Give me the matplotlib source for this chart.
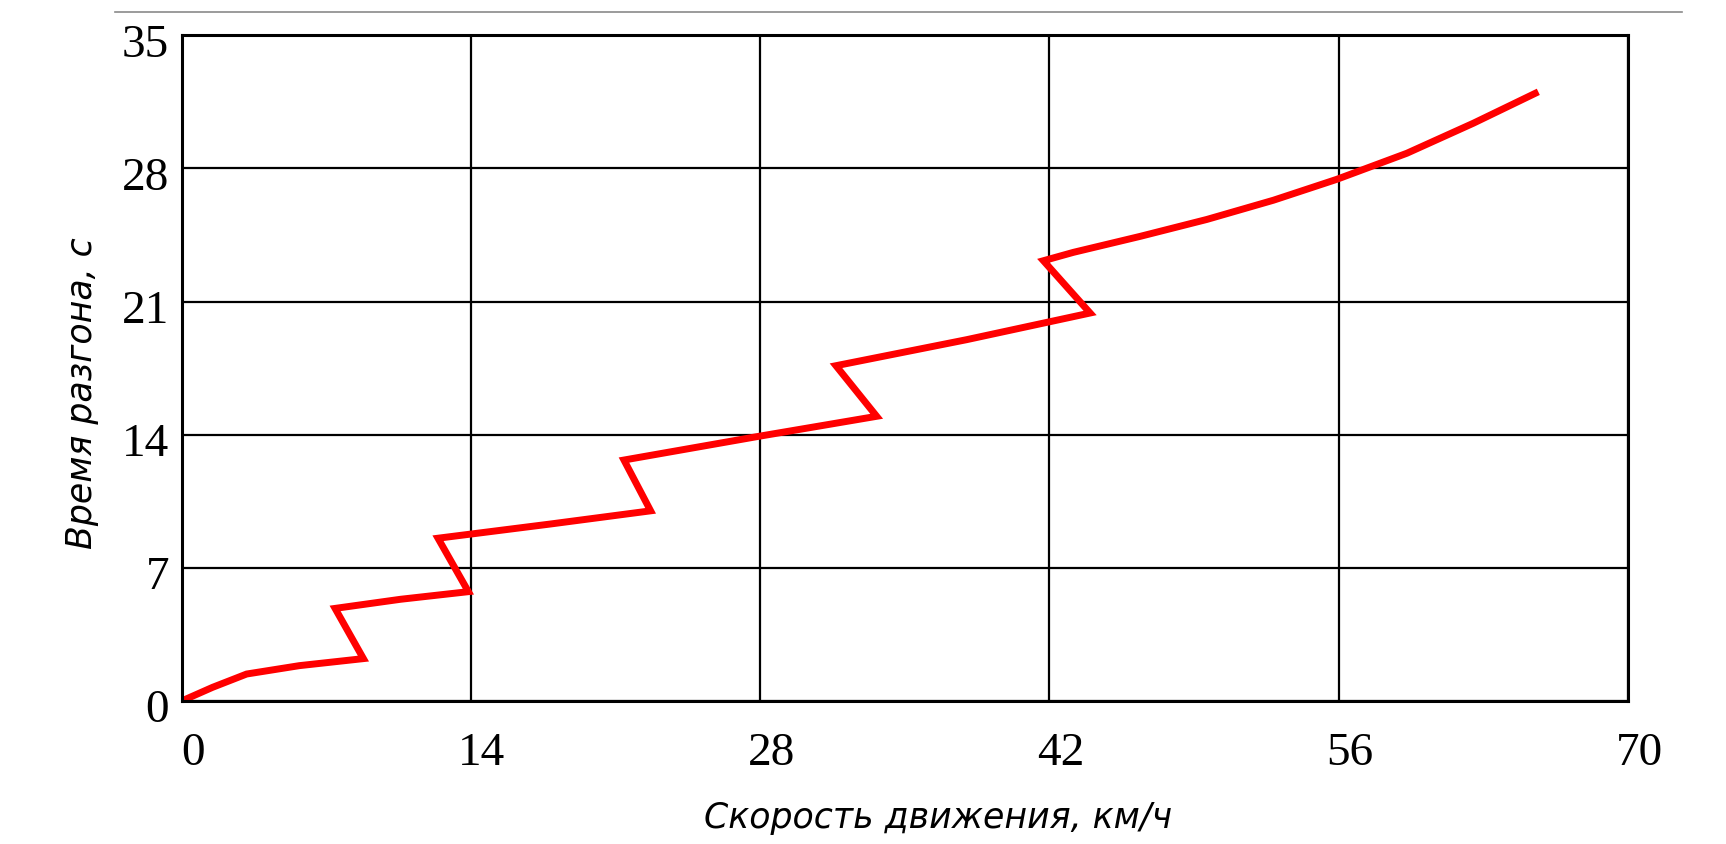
import numpy as np
import matplotlib
matplotlib.use("Agg")
import matplotlib.pyplot as plt
import matplotlib.transforms as mtransforms
from matplotlib.lines import Line2D

# ─── Данные: время разгона по передачам ──────────────────────────────────────
speed_kmh = [0, 1.5, 3.15, 5.7, 8.8,
             7.43, 10.6, 13.88,
             12.41, 17.8, 22.7,
             21.41, 28.0, 33.64,
             31.67, 38.0, 43.97,
             41.71, 43.16, 46.39, 49.62, 52.84, 55.91, 59.3, 62.52, 65.51]
time_s = [0, 0.72, 1.42, 1.86, 2.23,
          4.87, 5.35, 5.75,
          8.56, 9.3, 10.0,
          12.67, 13.93, 14.97,
          17.63, 19.0, 20.4,
          23.15, 23.59, 24.43, 25.32, 26.33, 27.43, 28.8, 30.38, 31.95]

x_ticks = [0, 14, 28, 42, 56, 70]
y_ticks = [0, 7, 14, 21, 28, 35]

TICK_FONT = "Liberation Serif"
LABEL_FONT = ["DejaVu Sans"]

fig = plt.figure(figsize=(17.26, 8.45), dpi=100)
fig.patch.set_facecolor("white")
ax = fig.add_axes([0.1052, 0.1692, 0.838, 0.7878])

ax.plot(speed_kmh, time_s, color="#ff0000", lw=5, solid_joinstyle="miter")

ax.set_xlim(0, 70)
ax.set_ylim(0, 35)
ax.set_xticks(x_ticks)
ax.set_yticks(y_ticks)
ax.grid(True, color="black", lw=1.6)
ax.set_axisbelow(True)
for s in ax.spines.values():
    s.set_linewidth(2.2)
    s.set_color("black")

ax.tick_params(length=0, labelsize=34)
ax.tick_params(axis="x", pad=22)
ax.tick_params(axis="y", pad=9)
for lab in ax.get_xticklabels() + ax.get_yticklabels():
    lab.set_fontfamily(TICK_FONT)

# подписи делений чуть смещены, как в исходном оформлении
dx = mtransforms.ScaledTranslation(11 / 100, 0, fig.dpi_scale_trans)
dy = mtransforms.ScaledTranslation(0, -4 / 100, fig.dpi_scale_trans)
for lab in ax.get_xticklabels():
    lab.set_transform(lab.get_transform() + dx)
for lab in ax.get_yticklabels():
    lab.set_transform(lab.get_transform() + dy)

fig.text(938 / 1726, 1 - 818 / 845, "Скорость движения, км/ч",
         ha="center", va="center", fontsize=25, style="italic",
         family=LABEL_FONT)
fig.text(82 / 1726, 1 - 393 / 845, "Время разгона, с",
         ha="center", va="center", fontsize=25, style="italic",
         rotation=90, family=LABEL_FONT)

# тонкая серая линия над графиком
fig.add_artist(Line2D([115 / 1726, 1682 / 1726], [1 - 13 / 845, 1 - 13 / 845],
                      transform=fig.transFigure, color="#8a8a8a", lw=1.2))

fig.savefig("out.png", dpi=100, facecolor=fig.get_facecolor())
plt.close(fig)
